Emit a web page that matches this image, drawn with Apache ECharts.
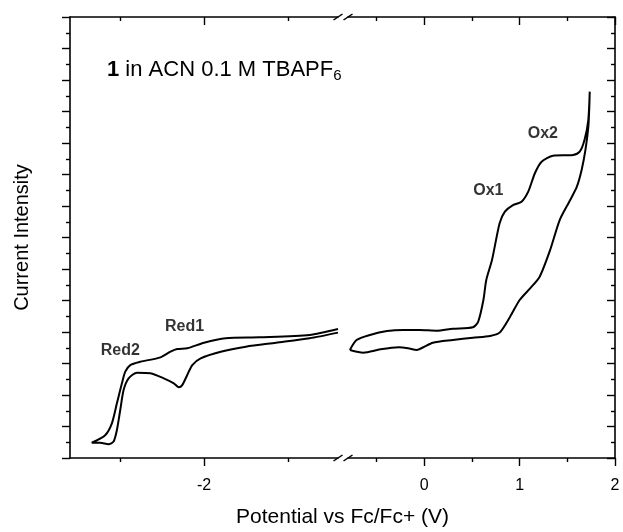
<!DOCTYPE html>
<html>
<head>
<meta charset="utf-8">
<script src="https://cdn.jsdelivr.net/npm/echarts@6/dist/echarts.min.js"></script>
<style>
  html, body { margin: 0; padding: 0; background: #ffffff; }
  #chart { width: 623px; height: 532px; }
</style>
</head>
<body>
<div id="chart"></div>
<script>
// Reduction window (left panel): potential (V vs Fc/Fc+) and current (arb. units)
const redPotential = [-1.20, -1.37, -1.67, -1.87, -2.00, -2.10, -2.16, -2.20, -2.26, -2.38, -2.44, -2.47, -2.49, -2.52, -2.55, -2.59, -2.67,
                      -2.62, -2.57, -2.54, -2.52, -2.50, -2.48, -2.45, -2.40, -2.32, -2.24, -2.18, -2.15, -2.13, -2.10, -2.07, -2.02, -1.90, -1.75, -1.57, -1.37, -1.20];
const redCurrent   = [8.19, 7.81, 7.66, 7.60, 7.32, 6.97, 6.92, 6.75, 6.39, 6.11, 5.90, 5.48, 4.74, 3.47, 2.20, 1.45, 0.97,
                      0.97, 0.87, 1.04, 1.78, 3.05, 4.32, 5.06, 5.42, 5.38, 5.06, 4.74, 4.49, 4.63, 5.27, 5.90, 6.33, 6.75, 7.07, 7.32, 7.60, 7.96];

// Oxidation window (right panel)
const oxPotential = [-0.78, -0.71, -0.57, -0.39, -0.22, -0.05, 0.13, 0.30, 0.51, 0.565, 0.62, 0.65, 0.71, 0.79, 0.845, 0.93, 1.02, 1.09, 1.16, 1.23, 1.35, 1.56, 1.63, 1.68, 1.72, 1.735,
                     1.73, 1.72, 1.69, 1.65, 1.60, 1.53, 1.42, 1.32, 1.21, 1.11, 1.00, 0.90, 0.79, 0.69, 0.51, 0.30, 0.09, -0.01, -0.08, -0.17, -0.27, -0.46, -0.64, -0.78];
const oxCurrent   = [6.86, 7.49, 7.81, 8.06, 8.13, 8.13, 8.08, 8.21, 8.30, 8.65, 10.03, 11.30, 12.57, 14.90, 15.64, 16.06, 16.27, 16.91, 18.08, 18.81, 19.19, 19.24, 19.45, 20.19, 21.46, 23.26,
                     22.2, 21.0, 19.56, 18.29, 17.23, 16.38, 15.11, 13.21, 11.51, 10.77, 10.03, 8.97, 7.96, 7.75, 7.64, 7.49, 7.32, 7.03, 6.86, 6.97, 7.03, 6.90, 6.69, 6.86];

// Axis tick values
const redMajorTicks = [-2];
const redMinorTicks = [-2.5, -1.5];
const oxMajorTicks = [0, 1, 2];
const oxMinorTicks = [-0.5, 0.5, 1.5];

// Peak annotations
const peakNames = ['Red2', 'Red1', 'Ox1', 'Ox2'];
const peakPanel = [0, 0, 1, 1];
const peakPotential = [-2.50, -2.116, 0.672, 1.243];
const peakCurrent = [6.79, 8.32, 16.95, 20.57];

const FONT = "'Liberation Sans', Arial, Helvetica, sans-serif";
const INK = '#000000';
const AXIS_W = 1.6;

// Two panels sharing one frame, separated by a break
const panels = [
  { left: 70, width: 268, min: -2.8, max: -1.2, major: redMajorTicks, minor: redMinorTicks },
  { left: 348, width: 267, min: -0.8, max: 2.0, major: oxMajorTicks, minor: oxMinorTicks }
];
const gridTop = 17, gridBottom = 74, chartH = 532;

const grid = panels.map(p => ({ left: p.left, width: p.width, top: gridTop, bottom: gridBottom, show: false }));

const xAxis = [];
panels.forEach((p, gi) => {
  const base = { type: 'value', gridIndex: gi, min: p.min, max: p.max, splitLine: { show: false } };
  // bottom: line, major ticks, labels
  xAxis.push(Object.assign({}, base, {
    position: 'bottom',
    axisLine: { show: true, onZero: false, lineStyle: { color: INK, width: AXIS_W } },
    axisTick: { show: true, customValues: p.major, length: 8, lineStyle: { color: INK, width: 1.4 } },
    axisLabel: { show: true, customValues: p.major, color: INK, fontSize: 16, fontFamily: FONT, margin: 20,
                 formatter: v => String(v) }
  }));
  // bottom minor ticks
  xAxis.push(Object.assign({}, base, {
    position: 'bottom',
    axisLine: { show: false, onZero: false },
    axisTick: { show: true, customValues: p.minor, length: 4, lineStyle: { color: INK, width: 1.4 } },
    axisLabel: { show: false }
  }));
  // top mirror
  xAxis.push(Object.assign({}, base, {
    position: 'top',
    axisLine: { show: true, onZero: false, lineStyle: { color: INK, width: AXIS_W } },
    axisTick: { show: true, inside: true, customValues: p.major, length: 8, lineStyle: { color: INK, width: 1.4 } },
    axisLabel: { show: false }
  }));
  xAxis.push(Object.assign({}, base, {
    position: 'top',
    axisLine: { show: false, onZero: false },
    axisTick: { show: true, inside: true, customValues: p.minor, length: 4, lineStyle: { color: INK, width: 1.4 } },
    axisLabel: { show: false }
  }));
});

const yAxis = [0, 1].map(gi => ({
  type: 'value', gridIndex: gi, min: 0, max: 28, interval: 2,
  position: gi === 0 ? 'left' : 'right',
  axisLine: { show: true, onZero: false, lineStyle: { color: INK, width: AXIS_W } },
  axisTick: { show: true, inside: gi === 1, length: 8, lineStyle: { color: INK, width: 1.4 } },
  minorTick: { show: true, splitNumber: 2, length: 4, lineStyle: { color: INK, width: 1.4 } },
  axisLabel: { show: false },
  splitLine: { show: false },
  minorSplitLine: { show: false }
}));

const zip = (xs, ys) => xs.map((x, i) => [x, ys[i]]);

const series = [
  {
    type: 'line', xAxisIndex: 0, yAxisIndex: 0, data: zip(redPotential, redCurrent),
    showSymbol: false, smooth: 0.25, lineStyle: { color: INK, width: 2 }, silent: true, animation: false
  },
  {
    type: 'line', xAxisIndex: 4, yAxisIndex: 1, data: zip(oxPotential, oxCurrent),
    showSymbol: false, smooth: 0.25, lineStyle: { color: INK, width: 2 }, silent: true, animation: false
  }
];

[0, 1].forEach(gi => {
  const pts = [];
  peakNames.forEach((n, i) => {
    if (peakPanel[i] === gi) pts.push({ value: [peakPotential[i], peakCurrent[i]], name: n });
  });
  series.push({
    type: 'scatter', xAxisIndex: gi * 4, yAxisIndex: gi, data: pts, symbolSize: 1,
    itemStyle: { color: 'rgba(0,0,0,0)' }, silent: true, animation: false,
    label: { show: true, position: 'inside', formatter: '{b}', color: INK, fontSize: 16, fontWeight: 'bold', fontFamily: FONT }
  });
});

// Break marks where the two panels meet
const breakL = panels[0].left + panels[0].width;
const breakR = panels[1].left;
const frameBottom = chartH - gridBottom;
const breakMarks = [];
[gridTop, frameBottom].forEach(y => {
  [breakL, breakR].forEach(x => {
    breakMarks.push({
      type: 'line', silent: true,
      shape: { x1: x - 4.5, y1: y + 3, x2: x + 4.5, y2: y - 3 },
      style: { stroke: INK, lineWidth: 1.5 }
    });
  });
});

const graphic = breakMarks.concat([
  {
    type: 'text', left: 107, top: 59, silent: true,
    style: {
      text: '{b|1} in ACN 0.1 M TBAPF{s|6}',
      fontSize: 22, fontFamily: FONT, fill: INK,
      rich: {
        b: { fontWeight: 'bold', fontSize: 22, fontFamily: FONT, fill: INK },
        s: { fontSize: 15, fontFamily: FONT, fill: INK, padding: [12, 0, 0, 0] }
      }
    }
  },
  {
    type: 'text', silent: true,
    x: (panels[0].left + panels[1].left + panels[1].width) / 2, y: 517,
    style: { text: 'Potential vs Fc/Fc+ (V)', fontSize: 21, fontFamily: FONT, fill: INK, align: 'center', verticalAlign: 'middle' }
  },
  {
    type: 'text', silent: true,
    x: 22, y: (gridTop + frameBottom) / 2, rotation: Math.PI / 2,
    style: { text: 'Current Intensity', fontSize: 20, fontFamily: FONT, fill: INK, align: 'center', verticalAlign: 'middle' }
  }
]);

const chart = echarts.init(document.getElementById('chart'), null, { renderer: 'canvas' });
chart.setOption({
  animation: false,
  backgroundColor: '#ffffff',
  grid, xAxis, yAxis, series, graphic
});
</script>
</body>
</html>
